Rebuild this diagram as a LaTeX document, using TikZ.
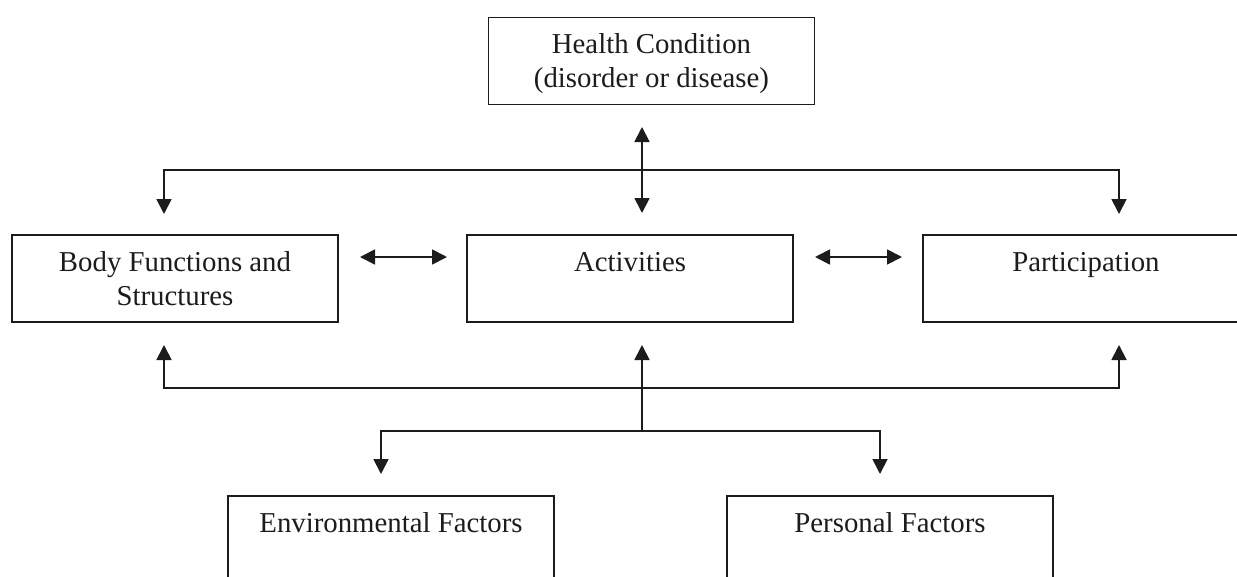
\documentclass[tikz,border=0pt]{standalone}
\usepackage{fontspec}
\setmainfont{Liberation Serif}
\usetikzlibrary{arrows.meta}
\definecolor{ink}{RGB}{28,28,28}
\begin{document}
\begin{tikzpicture}[x=1pt,y=-1pt,
  box/.style={draw=ink, line width=1.8pt, minimum width=326pt, minimum height=87pt, inner sep=0pt},
  lbl/.style={font=\fontsize{28.8}{34}\selectfont, text=ink, align=center, anchor=base, inner sep=0pt},
  conn/.style={draw=ink, line width=1.8pt},
  tip/.style={-{Triangle[length=15pt,width=15pt]}},
  dbl/.style={{Triangle[length=15pt,width=15pt]}-{Triangle[length=15pt,width=15pt]}}]
\useasboundingbox (0,0) rectangle (1237,576);
\fill[white] (0,0) rectangle (1237,576);
\clip (0,0) rectangle (1237,576);
% boxes
\node[box] (hc)   at (651.5,61)   {};
\node[box] (body) at (175,278.5)  {};
\node[box] (act)  at (630,278.5)  {};
\node[box] (part) at (1086,278.5) {};
\node[box] (env)  at (391,539.5)  {};
\node[box] (pers) at (890,539.5)  {};
% labels (base anchor = last line's baseline)
\node[lbl] (hcT)   at ([yshift=-71pt]hc.north)   {Health Condition\\(disorder or disease)};
\node[lbl] (bodyT) at ([yshift=-71pt]body.north) {Body Functions and\\Structures};
\node[lbl] (actT)  at ([yshift=-37pt]act.north)  {Activities};
\node[lbl] (partT) at ([yshift=-37pt]part.north) {Participation};
\node[lbl] (envT)  at ([yshift=-37pt]env.north)  {Environmental Factors};
\node[lbl] (persT) at ([yshift=-37pt]pers.north) {Personal Factors};
% connector points
\coordinate (hcA) at (642,127);
\coordinate (hcB) at (642,213);
\coordinate (bodyTop) at (164,214);
\coordinate (tL) at (164,170);
\coordinate (tR) at (1119,170);
\coordinate (partTop) at (1119,214);
\coordinate (bodyBot) at (164,345);
\coordinate (bL) at (164,388);
\coordinate (bR) at (1119,388);
\coordinate (partBot) at (1119,345);
\coordinate (cB) at (642,431);
\coordinate (actBot) at (642,345);
\coordinate (envTop) at (381,474);
\coordinate (eL) at (381,431);
\coordinate (eR) at (880,431);
\coordinate (persTop) at (880,474);
\coordinate (ba1) at (360,257);
\coordinate (ba2) at (447,257);
\coordinate (ap1) at (815,257);
\coordinate (ap2) at (902,257);
% connectors
\draw[conn,dbl] (hcA) -- (hcB);
\draw[conn,dbl] (bodyTop) -- (tL) -- (tR) -- (partTop);
\draw[conn,dbl] (ba1) -- (ba2);
\draw[conn,dbl] (ap1) -- (ap2);
\draw[conn,dbl] (bodyBot) -- (bL) -- (bR) -- (partBot);
\draw[conn,tip] (cB) -- (actBot);
\draw[conn,dbl] (envTop) -- (eL) -- (eR) -- (persTop);
\end{tikzpicture}
\end{document}
